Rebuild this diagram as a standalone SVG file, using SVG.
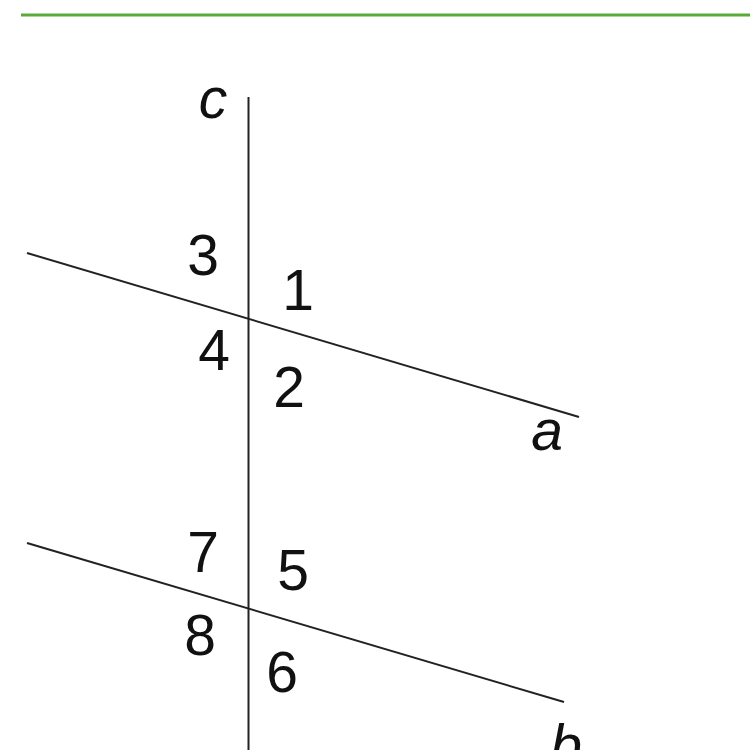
<svg xmlns="http://www.w3.org/2000/svg" width="750" height="750" viewBox="0 0 750 750">
<style>
.ln{stroke:#222;stroke-width:2;fill:none}
.num{font-family:"Liberation Sans",Arial,sans-serif;font-size:57px;fill:#111;text-anchor:middle}
.it{font-style:italic}
</style>
<rect width="750" height="750" fill="#fff"/>
<line x1="21" y1="15" x2="750" y2="15" stroke="#5aaa3a" stroke-width="3"/>
<g id="connectors">
<line class="ln" x1="248.5" y1="97" x2="248.5" y2="750"/>
<line class="ln" x1="27" y1="253" x2="579" y2="417"/>
<line class="ln" x1="27" y1="543" x2="564" y2="702"/>
</g>
<g id="labels">
<text class="num it" x="213" y="118">c</text>
<text class="num it" x="547" y="450">a</text>
<text class="num it" x="566" y="765">b</text>
<text class="num" x="203" y="275">3</text>
<text class="num" x="298" y="310">1</text>
<text class="num" x="214" y="370">4</text>
<text class="num" x="289" y="407">2</text>
<text class="num" x="203" y="572">7</text>
<text class="num" x="293" y="590">5</text>
<text class="num" x="200" y="655">8</text>
<text class="num" x="282" y="692">6</text>
</g>
</svg>
